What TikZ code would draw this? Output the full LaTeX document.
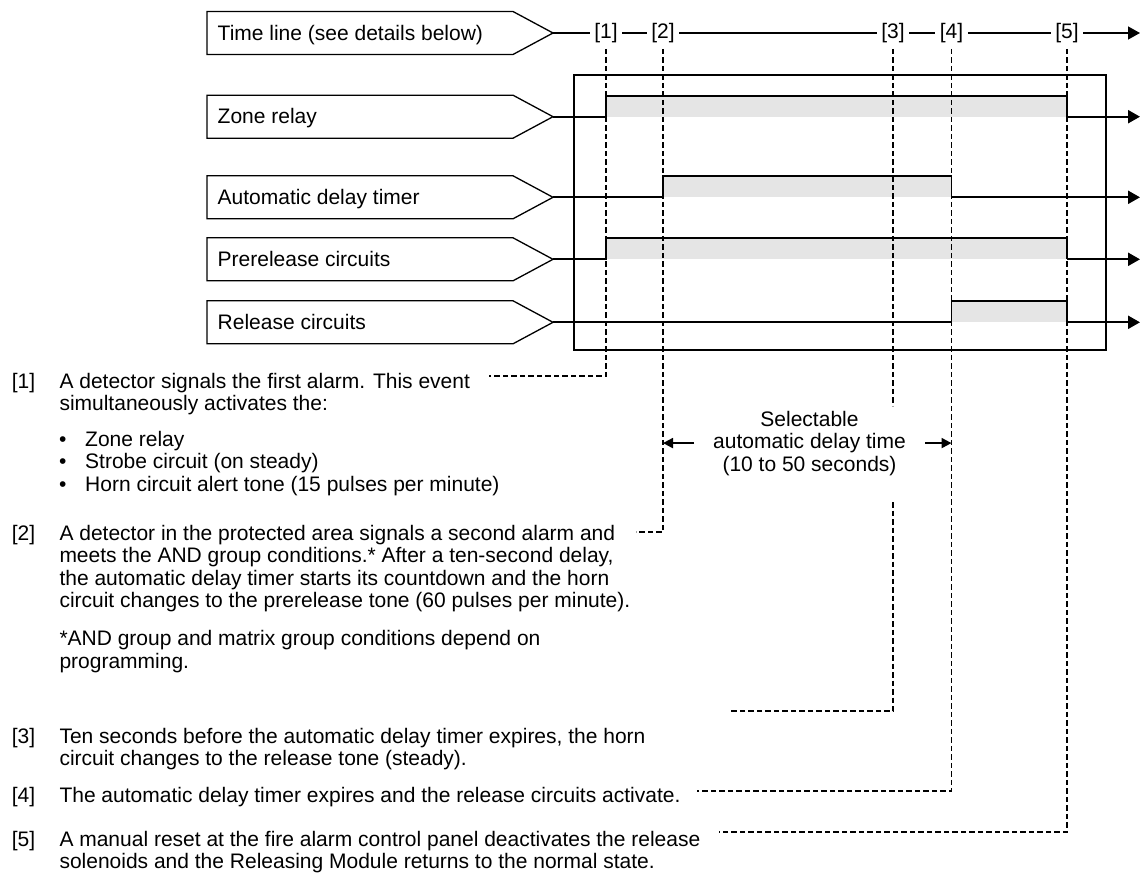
\documentclass[tikz,border=0pt]{standalone}
\usepackage{fontspec}
\setmainfont{Liberation Sans}
\usetikzlibrary{arrows.meta}
\newcommand{\lblbox}[3]{%
  \draw[lbl] (207,#2-21.5) -- (513,#2-21.5) -- (553,#2) -- (513,#2+21.5) -- (207,#2+21.5) -- cycle;
  \node[anchor=base west] (#1) at (217.5,#2+7) {#3};
  \coordinate (#1tip) at (553,#2);
}
\begin{document}
\begin{tikzpicture}[x=1pt,y=-1pt,
  every node/.style={font=\fontsize{21}{22.5}\selectfont, inner sep=0pt},
  lbl/.style={draw=black, line width=1.3pt, line join=miter},
  sig/.style={line width=1.8pt, line join=miter},
  tail/.style={line width=2.2pt},
  hi/.style={fill=black!10, draw=none},
  dsh/.style={line width=1.4pt, dash pattern=on 5.5pt off 3pt},
  tipend/.style={-{Triangle[length=12pt,width=13pt]}},
  smallarr/.style={line width=2pt, -{Triangle[length=10pt,width=10pt]}},
  para/.style={anchor=base west, align=left},
  tnode/.style={inner xsep=4.5pt},
]
\useasboundingbox (0,0) rectangle (1141,878);

% ---- time line ----
\lblbox{tl}{33}{Time line (see details below)}
\node[tnode] (t1) at (606,33) {[1]};
\node[tnode] (t2) at (663,33) {[2]};
\node[tnode] (t3) at (893,33) {[3]};
\node[tnode] (t4) at (951.5,33) {[4]};
\node[tnode] (t5) at (1067,33) {[5]};
\coordinate (tend) at (1140,33);
\draw[line width=1.3pt] (tltip) -- (t1) (t1) -- (t2) (t2) -- (t3) (t3) -- (t4) (t4) -- (t5);
\draw[line width=1.3pt, tipend] (t5) -- (tend);

% ---- signal labels ----
\lblbox{zr}{116.7}{Zone relay}
\lblbox{ad}{197.3}{Automatic delay timer}
\lblbox{pr}{259.3}{Prerelease circuits}
\lblbox{rc}{322.3}{Release circuits}

% ---- highlighted active periods ----
\fill[hi] ([yshift=21pt]zrtip -| t1) rectangle (zrtip -| t5);
\fill[hi] ([yshift=21pt]adtip -| t2) rectangle (adtip -| t4);
\fill[hi] ([yshift=21pt]prtip -| t1) rectangle (prtip -| t5);
\fill[hi] ([yshift=21pt]rctip -| t4) rectangle (rctip -| t5);

% ---- frame ----
\draw[line width=2pt] (573.5,75) rectangle (1105.5,349.5);

% ---- waveforms ----
\draw[sig] (zrtip) -- (zrtip -| t1) -- ([yshift=21pt]zrtip -| t1) -- ([yshift=21pt]zrtip -| t5) -- (zrtip -| t5);
\draw[tail, tipend] (zrtip -| t5) -- (zrtip -| tend);

\draw[sig] (adtip) -- (adtip -| t2) -- ([yshift=21pt]adtip -| t2) -- ([yshift=21pt]adtip -| t4) -- (adtip -| t4);
\draw[tail, tipend] (adtip -| t4) -- (adtip -| tend);

\draw[sig] (prtip) -- (prtip -| t1) -- ([yshift=21pt]prtip -| t1) -- ([yshift=21pt]prtip -| t5) -- (prtip -| t5);
\draw[tail, tipend] (prtip -| t5) -- (prtip -| tend);

\draw[sig] (rctip) -- (rctip -| t4) -- ([yshift=21pt]rctip -| t4) -- ([yshift=21pt]rctip -| t5) -- (rctip -| t5);
\draw[tail, tipend] (rctip -| t5) -- (rctip -| tend);

% ---- explanation texts (base = baseline of last line) ----
\node[para] (n1) at (11.7,388) {[1]};
\node[para] (p1) at (59.3,410.5) {A detector signals the first alarm. This event\\simultaneously activates the:};
\node[para] (b1) at (59,491) {\makebox[26pt][l]{\textbullet}Zone relay\\\makebox[26pt][l]{\textbullet}Strobe circuit (on steady)\\\makebox[26pt][l]{\textbullet}Horn circuit alert tone (15 pulses per minute)};
\node[para] (n2) at (11.7,540) {[2]};
\node[para] (p2) at (59.3,607.5) {A detector in the protected area signals a second alarm and\\meets the AND group conditions.* After a ten-second delay,\\the automatic delay timer starts its countdown and the horn\\circuit changes to the prerelease tone (60 pulses per minute).};
\node[para] (fn) at (59.3,668) {*AND group and matrix group conditions depend on\\programming.};
\node[para] (n3) at (11.7,743) {[3]};
\node[para] (p3) at (59.3,765.5) {Ten seconds before the automatic delay timer expires, the horn\\circuit changes to the release tone (steady).};
\node[para] (n4) at (11.7,802) {[4]};
\node[para] (p4) at (59.3,802) {The automatic delay timer expires and the release circuits activate.};
\node[para] (n5) at (11.7,846) {[5]};
\node[para] (p5) at (59.3,868.5) {A manual reset at the fire alarm control panel deactivates the release\\solenoids and the Releasing Module returns to the normal state.};

% ---- selectable delay ----
\node[anchor=base, align=center] (sel) at (809.5,471) {Selectable\\automatic delay time\\(10 to 50 seconds)};
\draw[smallarr] ([xshift=-19pt]sel.west) -- (sel.west -| t2);
\draw[smallarr] ([xshift=19pt]sel.east) -- (sel.east -| t4);

% ---- leader lines ----
\coordinate (e1) at (489,376);
\coordinate (e2) at (636,532);
\coordinate (e3) at (730,711);
\coordinate (e4) at (697,791);
\coordinate (e5) at (719,832);
\coordinate (g3a) at (893,406);
\coordinate (g3b) at (893,502);
\draw[dsh] ([yshift=-6pt]t1.south) |- (e1);
\draw[dsh] ([yshift=-6pt]t2.south) |- (e2);
\draw[dsh] ([yshift=-6pt]t3.south) -- (g3a);
\draw[dsh] (g3b) |- (e3);
\draw[dsh] ([yshift=-6pt]t4.south) |- (e4);
\draw[dsh] ([yshift=-6pt]t5.south) |- (e5);
\end{tikzpicture}
\end{document}
